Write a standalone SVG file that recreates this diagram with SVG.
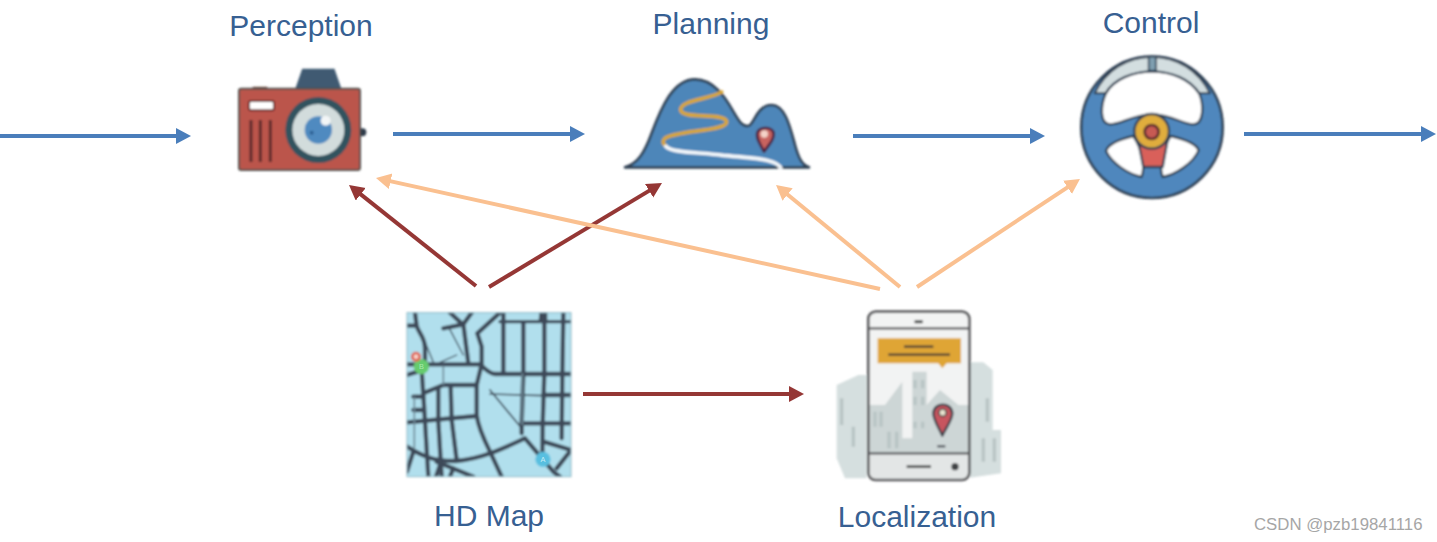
<svg xmlns="http://www.w3.org/2000/svg" width="1437" height="542" viewBox="0 0 1437 542">
<style>
.lbl{font-family:"Liberation Sans",Arial,sans-serif;font-size:30px;fill:#376092;text-anchor:middle}
.wm{font-family:"Liberation Sans",Arial,sans-serif;font-size:16.8px;fill:#a6a6a6}
.c{fill:none;stroke-width:4}
.b{stroke:#4a7ebb;marker-end:url(#mb)}
.r{stroke:#953735;marker-end:url(#mr)}
.o{stroke:#fac090;marker-end:url(#mo)}
.ln{fill:none;stroke:#3c4a58;stroke-linecap:round;stroke-linejoin:round}
.ic{filter:url(#soft)}
</style>
<defs>
<filter id="soft" x="-5%" y="-5%" width="110%" height="110%"><feGaussianBlur stdDeviation="2.5"/></filter>
<marker id="mb" markerUnits="userSpaceOnUse" markerWidth="16" markerHeight="17" refX="10" refY="8" orient="auto"><path d="M0 0L15 8L0 16z" fill="#4a7ebb"/></marker>
<marker id="mr" markerUnits="userSpaceOnUse" markerWidth="16" markerHeight="17" refX="10" refY="8" orient="auto"><path d="M0 0L15 8L0 16z" fill="#953735"/></marker>
<marker id="mo" markerUnits="userSpaceOnUse" markerWidth="16" markerHeight="17" refX="10" refY="8" orient="auto"><path d="M0 0L15 8L0 16z" fill="#fac090"/></marker>
<clipPath id="mapclip"><rect x="21" y="23" width="492" height="492"/></clipPath>
</defs>
<rect width="1437" height="542" fill="#fff"/>

<g id="connectors">
<path class="c b" d="M0 136H186"/>
<path class="c b" d="M393 134H580"/>
<path class="c b" d="M853 136H1040"/>
<path class="c b" d="M1244 134H1431"/>
<path class="c r" d="M476 286L352.900 188.100"/>
<path class="c r" d="M489 287L657.700 185.600"/>
<path class="c r" d="M583 394H799"/>
<path class="c o" d="M880 289L380.900 179.100"/>
<path class="c o" d="M900 287L779.900 188.200"/>
<path class="c o" d="M917 287L1075.800 181.800"/>
</g>

<g id="perception">
<text class="lbl" x="301" y="36">Perception</text>
<g transform="translate(220 50) scale(.3333)"><g class="ic">
<path d="M228 116L248 58H342L362 116z" fill="#3f5a72" stroke="#3f5a72" stroke-width="4"/>
<path d="M98 114H142" stroke="#6b3a30" stroke-width="7"/>
<circle cx="427" cy="247" r="12" fill="#2f3b48"/>
<rect x="57" y="116" width="363" height="244" rx="7" fill="#bb544c" stroke="#54524f" stroke-width="6"/>
<rect x="87" y="153" width="75" height="28" rx="6" fill="#fff" stroke="#6b2d2a" stroke-width="6"/>
<path d="M93 210V336M121 210V336M151 210V336" stroke="#5d2a2c" stroke-width="9"/>
<circle cx="295" cy="240" r="99" fill="#33525f"/>
<circle cx="295" cy="240" r="78" fill="#d2dcdc"/>
<circle cx="295" cy="240" r="41" fill="#4f8ac0"/>
<circle cx="275" cy="248" r="6" fill="#2b5f93"/>
<circle cx="317" cy="212" r="15" fill="#f2f5f6"/>
</g></g>
</g>

<g id="planning">
<text class="lbl" x="711" y="34">Planning</text>
<g transform="translate(610 70) scale(.3333)"><g class="ic">
<path d="M45 292C85 280 105 245 125 190C155 110 190 28 255 28C310 28 345 80 370 125C385 150 395 170 415 168C432 166 440 105 485 105C525 105 540 170 555 225C565 262 575 285 597 292z" fill="#4d86b9" stroke="#2f4053" stroke-width="8" stroke-linejoin="round"/>
<path d="M335 66C300 88 210 90 212 120C214 150 345 125 350 155C352 185 200 180 165 205C155 215 160 222 165 225" fill="none" stroke="#d9a637" stroke-width="11" stroke-linecap="round" stroke-linejoin="round"/>
<path d="M165 225C175 250 260 245 340 256C430 265 500 265 514 296" fill="none" stroke="#f4f8fb" stroke-width="11"/>
<path d="M462 245C450 222 438 205 442 188C447 172 480 168 490 186C496 205 476 225 462 245z" fill="#c9635f" stroke="#4a2340" stroke-width="8" stroke-linejoin="round"/>
<circle cx="463" cy="192" r="11" fill="#f4d3c8"/>
</g></g>
</g>

<g id="control">
<text class="lbl" x="1151" y="33">Control</text>
<g transform="translate(1070 45) scale(.3333)"><g class="ic">
<circle cx="246" cy="247" r="212" fill="#4f87bd" stroke="#2f4053" stroke-width="8"/>
<path d="M74 145C108 75 170 36 246 35C322 36 385 75 420 145H388C355 102 300 80 246 80C190 80 140 102 107 145z" fill="#d3dee0" stroke="#2f4053" stroke-width="6" stroke-linejoin="round"/>
<rect x="236" y="35" width="22" height="42" fill="#7f9fb0" stroke="#2f4053" stroke-width="5"/>
<path d="M107 146C130 102 190 80 246 80C305 80 360 102 388 146C402 180 402 238 370 238C340 240 310 210 246 208C185 210 150 240 118 238C88 235 92 180 107 146z" fill="#fff" stroke="#2f4053" stroke-width="7" stroke-linejoin="round"/>
<path d="M190 273C160 280 115 295 108 318C125 355 175 388 215 396C224 370 222 320 190 273z" fill="#fff" stroke="#2f4053" stroke-width="7" stroke-linejoin="round"/>
<path d="M302 273C332 280 378 292 386 316C370 355 315 390 278 396C268 370 272 320 302 273z" fill="#fff" stroke="#2f4053" stroke-width="7" stroke-linejoin="round"/>
<path d="M205 290L220 366H278L292 290z" fill="#d9605a" stroke="#2f4053" stroke-width="7" stroke-linejoin="round"/>
<circle cx="245" cy="259" r="52" fill="#e0ad3c" stroke="#2f4053" stroke-width="7"/>
<circle cx="245" cy="261" r="21" fill="#c75a52" stroke="#5a2b2e" stroke-width="8"/>
</g></g>
</g>

<g id="hd-map">
<text class="lbl" x="489" y="526">HD Map</text>
<g transform="translate(400 305) scale(.3333)"><g class="ic">
<rect x="21" y="23" width="492" height="492" fill="#b1dfed"/>
<g clip-path="url(#mapclip)">
<g class="ln" stroke-width="13">
<path d="M21 62H50C55 85 75 95 75 130V180M45 23L50 62"/>
<path d="M21 178H240C255 190 265 205 285 207H513"/>
<path d="M21 210L65 196L72 300L85 515"/>
<path d="M130 70L190 58L205 175M150 23L188 58M190 58L215 23"/>
<path d="M232 85L300 23M232 85L245 125V178L230 240V330C235 370 255 410 270 440L305 515"/>
<path d="M310 23V205M370 52V205L365 360V385M433 23V205L428 360L427 470M490 23L487 210L485 400"/>
<path d="M300 50H513" stroke-width="10"/>
<path d="M70 265L130 240H230"/>
<path d="M21 352L230 333"/>
<path d="M115 250V350L125 515M152 245L155 345L170 465M40 275H70M40 315H70"/>
<path d="M365 355H513M430 270H513"/>
<path d="M21 425C60 450 100 470 170 468C250 460 310 430 375 400L460 500L480 515"/>
<path d="M430 410L513 435M513 435L470 490"/>
<path d="M40 440L21 500M120 480L108 515M160 490L150 515M110 470L220 515"/>
</g>
<path d="M418 23H442V45H416z" fill="#3c4a58"/>
<path d="M270 255L365 370" class="ln" stroke-width="5"/>
<path d="M270 267L430 272" class="ln" stroke-width="5"/>
<path d="M75 110L100 172M120 172L170 150M148 70L190 150" class="ln" stroke-width="4"/>
<path d="M43 275V430" stroke="#6f8a98" stroke-width="5" fill="none"/>
<path d="M130 185V240M367 205V360" stroke="#6f8a98" stroke-width="5" fill="none"/>
</g>
<rect x="21" y="23" width="492" height="492" fill="none" stroke="#8fb9c6" stroke-width="3"/>
<circle cx="64" cy="185" r="23" fill="#66cc6e"/>
<circle cx="48" cy="155" r="11" fill="#f7d5cc" stroke="#e0604f" stroke-width="8"/>
<circle cx="429" cy="463" r="23" fill="#58bfe0"/>
</g>
<text x="64" y="193" font-family="Liberation Sans,sans-serif" font-size="22" fill="#a8e8ac" text-anchor="middle">B</text>
<text x="429" y="471" font-family="Liberation Sans,sans-serif" font-size="22" fill="#c5ecf6" text-anchor="middle">A</text>
</g>
</g>

<g id="localization">
<text class="lbl" x="917" y="527">Localization</text>
<g transform="translate(825 305) scale(.3333)"><g class="ic">
<path d="M35 240L100 210H125V520H60L35 460z" fill="#d5dfdf"/>
<path d="M435 172H475L503 195V375H528V505L435 518z" fill="#d5dfdf"/>
<rect x="130" y="20" width="303" height="505" rx="22" fill="#f2f3f3"/>
<path d="M133 300H180L232 230V400H262V200H305V300L345 255L400 300H430V445H133z" fill="#cdd6d6"/>
<path d="M135 445H430V500Q430 522 410 522H155Q135 522 135 500z" fill="#e3e6e6"/>
<path d="M50 280V360M85 365V425M487 280V350M475 400V470M508 400V470M150 320V365M168 320V365M192 380V430M215 380V430M270 225V250M293 225V250M270 275V300M293 275V300M270 350V370M293 350V370" stroke="#b8c4c4" stroke-width="10" fill="none"/>
<rect x="130" y="20" width="303" height="505" rx="22" fill="none" stroke="#58595b" stroke-width="8"/>
<path d="M132 70H432M132 445H432" stroke="#58595b" stroke-width="7"/>
<rect x="268" y="46" width="26" height="9" rx="4" fill="#46484a"/>
<path d="M158 100H408V175H365L352 190L340 175H158z" fill="#dfa535"/>
<path d="M237 125H325M190 149H375" stroke="#4a4037" stroke-width="7"/>
<path d="M352 392C340 365 325 345 325 325C327 290 380 290 382 325C382 345 365 365 352 392z" fill="#c8555e" stroke="#3b3f4a" stroke-width="7" stroke-linejoin="round"/>
<circle cx="353" cy="323" r="11" fill="#e8e2cf" stroke="#4a4040" stroke-width="5"/>
<path d="M337 424H361" stroke="#3b3f4a" stroke-width="6"/>
<path d="M245 485H318" stroke="#46484a" stroke-width="8"/>
<circle cx="390" cy="485" r="11" fill="#404244"/>
</g></g>
</g>

<text class="wm" x="1254" y="530">CSDN @pzb19841116</text>
</svg>
